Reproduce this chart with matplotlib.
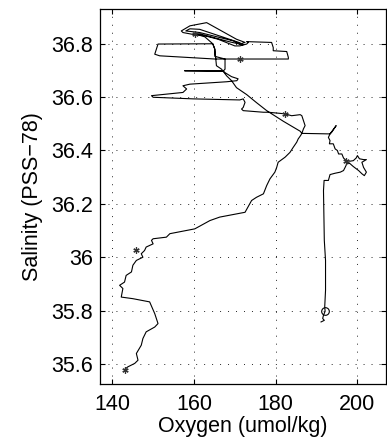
import matplotlib
matplotlib.use("Agg")
import matplotlib.pyplot as plt

# Oxygen (umol/kg) / salinity (PSS-78) profile trace
oxygen = [
    191.1, 191.9, 191.5, 191.7, 192.1, 192.0, 192.2, 192.2, 191.9, 191.7,
    191.85, 192.9, 193.3, 194.55, 195.8, 196.6, 197.0, 197.4, 198.1, 199.0,
    200.3, 201.1, 201.7, 202.2, 201.5, 201.1, 202.2, 201.5, 200.5, 200.0,
    199.7, 199.0, 198.2, 197.25, 196.6, 196.2, 195.4, 195.1, 194.55, 194.1,
    193.15, 193.3, 192.9, 193.3, 194.8, 193.7, 193.3, 186.4,
    186.8, 187.2, 186.8, 186.4, 186.0, 183.9, 182.3, 178.2, 177.0, 172.05,
    171.65, 172.05, 172.5, 172.05, 171.2, 159.8, 150.0, 149.6, 157.3, 158.2,
    157.3, 159.0, 168.0, 170.5, 170.8, 169.2, 167.6, 167.1, 157.7, 167.1,
    167.6, 167.6, 165.1, 165.1, 164.6, 151.2, 150.4, 151.6, 165.1, 171.2,
    183.1, 183.1, 182.7, 179.4, 179.4, 179.0, 172.9, 173.3, 172.9, 171.2,
    170.0, 165.9, 162.65, 159.4, 157.3, 156.9, 159.0, 163.1, 170.4, 172.5,
    171.2, 169.6, 161.4, 158.0, 159.0, 161.4, 171.2, 172.0, 168.8, 161.4,
    160.2, 162.65, 164.6, 165.1, 165.5, 166.75, 168.0, 169.2, 170.4, 172.9,
    175.3, 177.8, 181.9, 186.0, 186.4,
    186.1, 185.5, 185.15, 184.3, 183.5, 182.3, 180.6, 180.25, 179.8, 178.6,
    177.8, 177.0, 175.3, 174.1, 172.5, 166.3, 163.9, 160.2, 154.1, 153.25,
    150.0, 149.6, 150.0, 149.15, 148.3, 147.9, 147.1, 147.5, 145.9, 145.05,
    144.7, 143.4, 143.0, 141.8, 142.6, 142.2, 145.05, 149.15, 150.4, 151.2,
    150.4, 148.3, 147.5, 147.1, 145.9, 146.3, 145.5, 143.8, 143.0,
]
salinity = [
    35.759, 35.765, 35.772, 35.784, 35.799, 35.815, 35.877, 35.989, 36.064, 36.250,
    36.288, 36.288, 36.310, 36.315, 36.319, 36.325, 36.337, 36.350, 36.352, 36.340,
    36.325, 36.313, 36.306, 36.319, 36.337, 36.356, 36.366, 36.366, 36.369, 36.381,
    36.372, 36.362, 36.360, 36.362, 36.372, 36.387, 36.387, 36.400, 36.406, 36.425,
    36.425, 36.437, 36.449, 36.462, 36.493, 36.468, 36.462, 36.464,
    36.481, 36.493, 36.512, 36.530, 36.534, 36.530, 36.537, 36.543, 36.543, 36.549,
    36.555, 36.561, 36.580, 36.593, 36.589, 36.593, 36.599, 36.605, 36.617, 36.630,
    36.642, 36.648, 36.657, 36.661, 36.668, 36.676, 36.691, 36.698, 36.698, 36.696,
    36.704, 36.742, 36.752, 36.779, 36.799, 36.798, 36.760, 36.754, 36.742, 36.742,
    36.742, 36.748, 36.770, 36.773, 36.785, 36.804, 36.807, 36.804, 36.798, 36.791,
    36.791, 36.816, 36.829, 36.835, 36.841, 36.847, 36.866, 36.878, 36.816, 36.804,
    36.798, 36.810, 36.841, 36.847, 36.855, 36.853, 36.803, 36.795, 36.806, 36.836,
    36.836, 36.825, 36.799, 36.779, 36.717, 36.704, 36.679, 36.661, 36.635, 36.609,
    36.579, 36.549, 36.509, 36.472, 36.464,
    36.456, 36.443, 36.431, 36.412, 36.393, 36.375, 36.356, 36.337, 36.319, 36.294,
    36.269, 36.238, 36.225, 36.213, 36.169, 36.151, 36.138, 36.107, 36.089, 36.076,
    36.070, 36.064, 36.051, 36.045, 36.039, 36.026, 36.014, 36.001, 35.989, 35.971,
    35.946, 35.933, 35.908, 35.896, 35.884, 35.852, 35.846, 35.834, 35.790, 35.753,
    35.740, 35.722, 35.697, 35.672, 35.641, 35.616, 35.604, 35.591, 35.581,
]

# marked sample points
star_oxygen = [143.0, 145.9, 160.2, 171.2, 182.3, 197.25]
star_salinity = [35.581, 36.027, 36.836, 36.742, 36.537, 36.362]
start_oxygen = [192.1]
start_salinity = [35.80]

xticks = [140, 160, 180, 200]
yticks = [35.6, 35.8, 36.0, 36.2, 36.4, 36.6, 36.8]
ytick_labels = ["35.6", "35.8", "36", "36.2", "36.4", "36.6", "36.8"]

plt.rcParams['font.family'] = ['Liberation Sans', 'DejaVu Sans']

fig = plt.figure(figsize=(3.87, 4.46), dpi=100)
ax = fig.add_axes([100/387, 62/446, 286/387, 375/446])

ax.plot(oxygen, salinity, color='k', lw=0.8, zorder=3)
ax.plot(star_oxygen, star_salinity, linestyle='none', marker=(6, 2, 0),
        markersize=4.5, color='0.2', mew=0.9, zorder=4)
ax.plot(start_oxygen, start_salinity, linestyle='none', marker='o',
        markersize=5.5, markerfacecolor='none', markeredgecolor='k', mew=0.8, zorder=4)

ax.set_xlim(137, 207)
ax.set_ylim(35.527, 36.929)
ax.set_xticks(xticks)
ax.set_yticks(yticks)
ax.set_yticklabels(ytick_labels)

ax.grid(True, color='0.15', linestyle=(0, (1, 7.2)), lw=0.7)
ax.tick_params(direction='in', top=True, right=True, length=3.5, width=0.8,
               labelsize=15.5)
ax.tick_params(axis='x', pad=7)
ax.tick_params(axis='y', pad=5)
for s in ax.spines.values():
    s.set_linewidth(0.9)

ax.set_xlabel('Oxygen (umol/kg)', fontsize=15.5, labelpad=1)
ax.set_ylabel('Salinity (PSS\u221278)', fontsize=15.5, labelpad=6)

fig.savefig('out.png', dpi=100)
